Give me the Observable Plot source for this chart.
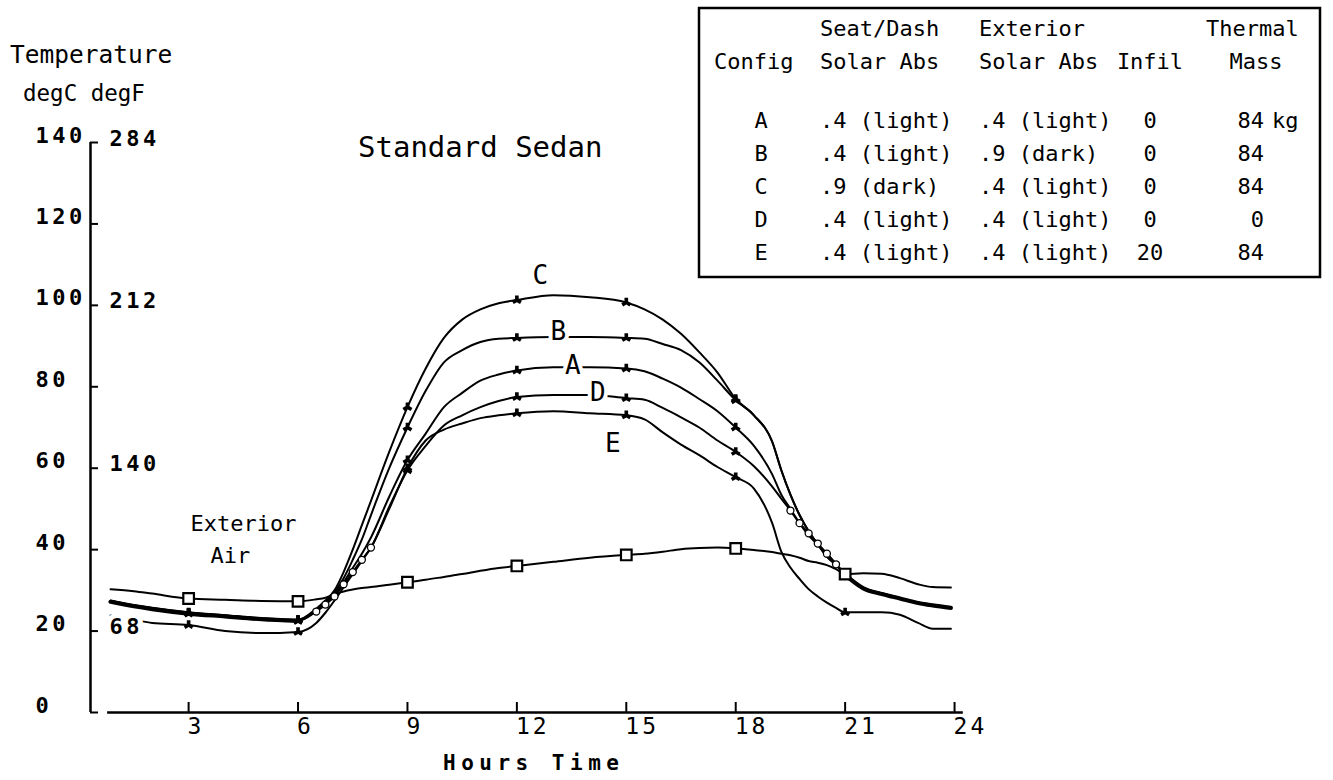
<!DOCTYPE html>
<html>
<head>
<meta charset="utf-8">
<script src="https://cdn.jsdelivr.net/npm/d3@7"></script>
<script src="https://cdn.jsdelivr.net/npm/@observablehq/plot@0.6"></script>
<style>
  html, body { margin: 0; padding: 0; background: #fff; }
  #wrap { position: relative; width: 1333px; height: 780px; overflow: hidden; background: #fff; }
  #wrap > svg { position: absolute; left: 0; top: 0; }
  g[aria-description="y-labels"] text, g[aria-description="f-labels"] text { letter-spacing: 3.5px; }
  g[aria-description="x-labels"] text { letter-spacing: 3px; }
</style>
</head>
<body>
<div id="wrap"></div>
<script>
// ---------------- DATA ----------------
const hours = [0.86, 1.5, 2, 3, 4, 5, 6,
  6.5, 6.75, 7, 7.25, 7.5, 7.75, 8,
  8.5, 9, 9.5, 10, 10.5, 11, 11.5, 12,
  13, 14, 15, 15.5, 16, 16.5, 17, 17.5, 18,
  18.5, 19, 19.25, 19.5, 19.75, 20, 20.25, 20.5, 20.75, 21,
  21.5, 22, 22.5, 23, 23.4, 23.9];

const exteriorAir = [30.3, 29.8, 29.2, 28.0, 27.7, 27.4, 27.3,
  27.8, 28.2, 29.0, 29.7, 30.2, 30.6, 30.8,
  31.4, 32.0, 32.6, 33.3, 34.0, 34.8, 35.5, 36.0,
  37.0, 38.0, 38.7, 39.0, 39.5, 40.1, 40.4, 40.5, 40.3,
  39.9, 39.4, 39.0, 38.6, 38.0, 37.2, 36.8, 36.2, 35.2, 34.0,
  34.2, 34.1, 33.0, 31.5, 30.8, 30.7];

const configA = [27.3, 26.2, 25.5, 24.4, 23.7, 23.0, 22.6,
  25.0, 26.8, 29.0, 32.0, 35.5, 39.0, 43.0,
  53.0, 62.0, 68.5, 75.0, 78.5, 81.5, 83.0, 84.0,
  84.8, 84.8, 84.5, 83.8, 82.0, 79.8, 77.0, 74.0, 70.0,
  65.5, 58.5, 53.5, 50.0, 46.5, 43.5, 41.2, 39.0, 36.5, 34.0,
  30.5, 29.2, 28.0, 27.0, 26.3, 25.7];

const configB = [27.4, 26.3, 25.6, 24.5, 23.8, 23.1, 22.7,
  25.3, 27.2, 29.5, 33.0, 37.5, 42.5, 48.5,
  60.0, 70.0, 79.0, 86.0, 89.0, 91.0, 91.8, 92.0,
  92.2, 92.2, 92.0, 91.8, 90.5, 89.0, 86.0, 81.5, 76.7,
  73.0, 66.5, 59.5, 53.5, 48.5, 44.5, 41.3, 38.3, 36.2, 34.0,
  30.6, 29.3, 28.1, 27.0, 26.4, 25.8];

const configC = [27.5, 26.4, 25.7, 24.6, 23.9, 23.2, 22.8,
  25.5, 27.5, 30.0, 34.5, 40.0, 46.0, 52.0,
  64.0, 75.0, 84.5, 92.0, 96.5, 99.0, 100.5, 101.3,
  102.5, 102.0, 100.7, 99.0, 96.5, 93.0, 88.5, 83.5, 77.0,
  73.0, 66.5, 59.5, 53.5, 48.5, 44.5, 41.3, 38.3, 36.2, 34.0,
  30.6, 29.3, 28.1, 27.0, 26.4, 25.8];

const configD = [27.2, 26.1, 25.4, 24.3, 23.6, 22.9, 22.5,
  24.8, 26.5, 28.5, 31.5, 34.5, 37.5, 40.5,
  50.5, 59.5, 65.5, 70.5, 73.0, 75.0, 76.5, 77.5,
  78.0, 78.0, 77.2, 76.8, 74.8, 72.5, 70.0, 66.8, 64.0,
  60.5, 55.5, 52.5, 49.6, 46.5, 44.0, 41.5, 39.0, 36.4, 33.8,
  30.5, 29.1, 28.0, 26.9, 26.3, 25.7];

const configE = [23.8, 22.8, 22.0, 21.5, 20.0, 19.5, 19.8,
  22.0, 24.5, 27.5, 30.8, 34.0, 37.2, 40.5,
  50.0, 60.0, 66.8, 69.5, 71.0, 72.3, 73.0, 73.5,
  74.0, 73.5, 73.0, 72.0, 68.8, 65.8, 63.2, 60.3, 57.8,
  55.0, 46.5, 39.5, 35.6, 32.8, 30.3, 28.5, 27.0, 25.7, 24.6,
  24.6, 24.6, 24.0, 22.0, 20.6, 20.6];

const seriesNames = ["A", "B", "C", "D", "E"];
const seriesValues = [configA, configB, configC, configD, configE];

// sample hours that carry symbols
const markerHours = [3, 6, 9, 12, 15, 18, 21];
const circleHours = [6.5, 6.75, 7, 7.25, 7.5, 7.75, 8, 19.5, 19.75, 20, 20.25, 20.5, 20.75];
const labelHours = [14, 13, 13, 14, 14];   // where each curve letter is attached

// axes
const yTicksC = [0, 20, 40, 60, 80, 100, 120, 140];
const fTickC = [140, 100, 60, 20];
const fTickLabels = ["284", "212", "140", "68"];
const xTicks = [3, 6, 9, 12, 15, 18, 21, 24];

// table
const tableConfigs = ["A", "B", "C", "D", "E"];
const seatDashAbs = [".4 (light)", ".4 (light)", ".9 (dark)", ".4 (light)", ".4 (light)"];
const exteriorAbs = [".4 (light)", ".9 (dark)", ".4 (light)", ".4 (light)", ".4 (light)"];
const infiltration = ["0", "0", "0", "0", "20"];
const thermalMass = ["84", "84", "84", "0", "84"];
const thermalUnit = "kg";

// ---------------- LAYOUT / STYLE ----------------
const W = 1333, H = 780;
const mL = 90, mR = 368, mT = 142, mB = 68;
const frameW = W - mL - mR, frameH = H - mT - mB;
const xDomain = [0.31, 24.3];
const xAxisStart = 0.78, xAxisEnd = 24.24;
const MONO = "DejaVu Sans Mono, Liberation Mono, monospace";
const labelOffsets = {A: [-17, -2], B: [5, -5], C: [-13, -20], D: [8, -2], E: [23, 30]};

// ---------------- TIDY DATA ----------------
const rows = seriesNames.flatMap((s, k) => hours.map((h, i) => ({s, h, t: seriesValues[k][i]})));
const ext = hours.map((h, i) => ({h, t: exteriorAir[i]}));
const extAt3 = ext.filter(d => d.h === 3);

const lineOpts = {x: "h", y: "t", stroke: "black", curve: "monotone-x"};

const marks = [
  // axes
  Plot.ruleX([xDomain[0]], {y1: 0, y2: 140, stroke: "black", strokeWidth: 2.5}),
  Plot.ruleY(yTicksC, {insetRight: frameW - 8, stroke: "black", strokeWidth: 2}),
  Plot.ruleY([0], {x1: xAxisStart, x2: xAxisEnd, stroke: "black", strokeWidth: 2.5}),
  Plot.ruleX(xTicks, {insetTop: frameH - 10, stroke: "black", strokeWidth: 2}),

  // curves
  Plot.line(ext, {...lineOpts, strokeWidth: 2}),
  Plot.line(rows, {...lineOpts, z: "s", strokeWidth: 2}),
  Plot.line(rows.filter(d => d.s === "D" && (d.h <= 6 || d.h >= 21)),
    {...lineOpts, z: d => (d.h < 12 ? "am" : "pm"), strokeWidth: 4.2}),

  // symbols
  Plot.dot(rows.filter(d => markerHours.includes(d.h)),
    {x: "h", y: "t", symbol: "wye", r: 3.8, fill: "black", rotate: 180}),
  Plot.dot(rows.filter(d => d.s === "D" && circleHours.includes(d.h)),
    {x: "h", y: "t", r: 3.5, fill: "white", stroke: "black", strokeWidth: 1.3}),
  Plot.dot(ext.filter(d => markerHours.includes(d.h)),
    {x: "h", y: "t", symbol: "square", r: 6, fill: "white", stroke: "black", strokeWidth: 2.2}),

  // curve letters
  ...seriesNames.map((s, k) => Plot.text(
    rows.filter(d => d.s === s && d.h === labelHours[k]),
    {x: "h", y: "t", text: "s", dx: labelOffsets[s][0], dy: labelOffsets[s][1],
     fontFamily: MONO, fontSize: 26, fill: "black", stroke: "white", strokeWidth: 8,
     lineAnchor: "middle", textAnchor: "middle"})),

  // Exterior Air label, attached to the exterior curve
  Plot.text(extAt3, {x: "h", y: "t", text: () => "Exterior", dx: 2, dy: -68,
    textAnchor: "start", lineAnchor: "bottom", fontFamily: MONO, fontSize: 22}),
  Plot.text(extAt3, {x: "h", y: "t", text: () => "Air", dx: 22, dy: -36,
    textAnchor: "start", lineAnchor: "bottom", fontFamily: MONO, fontSize: 22}),

  // y tick labels (deg C, left) and (deg F, right of the axis)
  Plot.text(yTicksC, {y: d => d, text: d => String(d), frameAnchor: "left", dx: -55,
    textAnchor: "start", lineAnchor: "bottom", fontFamily: MONO, fontSize: 22,
    fontWeight: "bold", ariaDescription: "y-labels"}),
  Plot.text(fTickC.map((c, i) => ({c, f: fTickLabels[i]})), {y: "c", text: "f",
    frameAnchor: "left", dx: 19, dy: 3, textAnchor: "start", lineAnchor: "bottom",
    fontFamily: MONO, fontSize: 22, fontWeight: "bold", fill: "black",
    stroke: "white", strokeWidth: 10, ariaDescription: "f-labels"}),

  // x tick labels
  Plot.text(xTicks, {x: d => d, text: d => String(d), frameAnchor: "bottom", dy: 5, dx: -1,
    textAnchor: "start", lineAnchor: "top", fontFamily: MONO, fontSize: 23,
    ariaDescription: "x-labels"})
];

const chart = Plot.plot({
  width: W, height: H,
  marginLeft: mL, marginRight: mR, marginTop: mT, marginBottom: mB,
  x: {domain: xDomain, axis: null},
  y: {domain: [0, 140], axis: null},
  style: {background: "white", color: "black", fontFamily: MONO},
  marks
});

const wrap = document.getElementById("wrap");
wrap.appendChild(chart);

// letter spacing of the tick labels (also set via CSS)
const cs = d3.select(chart);
cs.selectAll('[aria-description="y-labels"] text, [aria-description="f-labels"] text')
  .attr("letter-spacing", "3.5px");
cs.selectAll('[aria-description="x-labels"] text').attr("letter-spacing", "3px");

// ---------------- overlay: headings and configuration table ----------------
const ov = d3.create("svg")
  .attr("width", W).attr("height", H).attr("viewBox", `0 0 ${W} ${H}`)
  .style("pointer-events", "none")
  .attr("font-family", MONO).attr("fill", "black");

function txt(x, y, s, o = {}) {
  const e = ov.append("text").attr("x", x).attr("y", y).text(s)
    .attr("font-size", o.size || 22)
    .attr("text-anchor", o.anchor || "start");
  if (o.weight) e.attr("font-weight", o.weight);
  if (o.ls) e.attr("letter-spacing", o.ls);
  return e;
}

txt(10, 63, "Temperature", {size: 24.5});
txt(23, 101, "degC  degF", {size: 22.5});
txt(358, 157, "Standard Sedan", {size: 29});
txt(443, 770, "Hours Time", {size: 21, weight: "bold", ls: 5.5});

// table box
ov.append("rect").attr("x", 699).attr("y", 8).attr("width", 621).attr("height", 269)
  .attr("fill", "none").attr("stroke", "black").attr("stroke-width", 2.5);

const colConfig = 761, colSeat = 820, colExt = 979, colInfil = 1150, colMass = 1264;
txt(colSeat, 36, "Seat/Dash");
txt(colExt, 36, "Exterior");
txt(1206, 36, "Thermal");
txt(714, 69, "Config");
txt(colSeat, 69, "Solar Abs");
txt(colExt, 69, "Solar Abs");
txt(colInfil, 69, "Infil", {anchor: "middle"});
txt(1256, 69, "Mass", {anchor: "middle"});

tableConfigs.forEach((c, i) => {
  const y = 128 + i * 33;
  txt(colConfig, y, c, {anchor: "middle"});
  txt(colSeat, y, seatDashAbs[i]);
  txt(colExt, y, exteriorAbs[i]);
  txt(colInfil, y, infiltration[i], {anchor: "middle"});
  txt(colMass, y, thermalMass[i], {anchor: "end"});
  if (i === 0) txt(colMass + 8, y, thermalUnit);
});

wrap.appendChild(ov.node());
</script>
</body>
</html>
